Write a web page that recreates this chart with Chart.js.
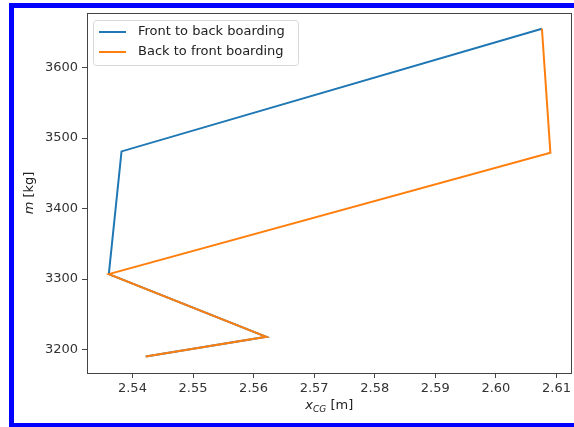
<!DOCTYPE html>
<html>
<head>
<meta charset="utf-8">
<script src="https://cdn.jsdelivr.net/npm/chart.js@4"></script>
<style>
  html, body { margin: 0; padding: 0; background: #fff; }
  #frame {
    position: absolute; left: 9px; top: 3px; width: 565px; height: 424px;
    box-sizing: border-box;
    border-left: 5px solid #0000ff; border-top: 5px solid #0000ff; border-bottom: 4px solid #0000ff;
  }
  #wrap { position: absolute; left: 0; top: 0; width: 574px; height: 427px; }
</style>
</head>
<body>
<div id="frame"></div>
<div id="wrap"><canvas id="cg"></canvas></div>
<script>
// =============== DATA ===============
const seriesNames = ['Front to back boarding', 'Back to front boarding'];
const seriesColors = ['#1f77b4', '#ff7f0e'];

// x_CG [m] dan massa [kg] untuk tiap urutan boarding
const frontX = [2.5422, 2.5621, 2.5361, 2.5382, 2.6076];
const frontM = [3190, 3218, 3307, 3481, 3655];
const backX  = [2.5422, 2.5621, 2.5361, 2.6090, 2.6076];
const backM  = [3190, 3218, 3307, 3479, 3655];

const xTicks = [2.54, 2.55, 2.56, 2.57, 2.58, 2.59, 2.60, 2.61];
const yTicks = [3200, 3300, 3400, 3500, 3600];

const toPoints = (xs, ys) => xs.map((x, i) => ({ x: x, y: ys[i] }));

// =============== PLUGIN: frame, legend, axis titles ===============
const decorPlugin = {
  id: 'decor',
  afterDraw(chart) {
    const ctx = chart.ctx;
    const a = chart.chartArea;
    ctx.save();

    // bingkai plot
    ctx.strokeStyle = '#444';
    ctx.lineWidth = 1;
    ctx.strokeRect(Math.round(a.left) + 0.5, Math.round(a.top) + 0.5,
                   Math.round(a.right - a.left) - 1, Math.round(a.bottom - a.top));

    // legenda
    const lx = a.left + 6, ly = a.top + 7, lw = 205, lh = 45;
    ctx.beginPath();
    ctx.roundRect(lx + 0.5, ly + 0.5, lw, lh, 3);
    ctx.fillStyle = 'rgba(255,255,255,0.8)';
    ctx.fill();
    ctx.strokeStyle = '#d8d8d8';
    ctx.stroke();
    ctx.font = '13px "DejaVu Sans"';
    ctx.textBaseline = 'middle';
    seriesNames.forEach((name, i) => {
      const y = ly + 12 + i * 20;
      ctx.strokeStyle = seriesColors[i];
      ctx.lineWidth = 2;
      ctx.beginPath();
      ctx.moveTo(lx + 6, y);
      ctx.lineTo(lx + 33, y);
      ctx.stroke();
      ctx.fillStyle = '#222';
      ctx.fillText(name, lx + 45, y);
    });

    // judul sumbu x: x_CG [m]
    const cx = (a.left + a.right) / 2, ty = 409;
    ctx.fillStyle = '#222';
    ctx.textBaseline = 'alphabetic';
    const fMain = 'italic 13px "DejaVu Sans"';
    const fSub = 'italic 9px "DejaVu Sans"';
    const fNorm = '13px "DejaVu Sans"';
    ctx.font = fMain; const w1 = ctx.measureText('x').width;
    ctx.font = fSub;  const w2 = ctx.measureText('CG').width;
    ctx.font = fNorm; const w3 = ctx.measureText(' [m]').width;
    let sx = cx - (w1 + w2 + w3) / 2;
    ctx.textAlign = 'left';
    ctx.font = fMain; ctx.fillText('x', sx, ty); sx += w1;
    ctx.font = fSub;  ctx.fillText('CG', sx, ty + 3); sx += w2;
    ctx.font = fNorm; ctx.fillText(' [m]', sx, ty);

    // judul sumbu y: m [kg]
    ctx.translate(33, (a.top + a.bottom) / 2);
    ctx.rotate(-Math.PI / 2);
    ctx.font = fMain; const m1 = ctx.measureText('m').width;
    ctx.font = fNorm; const m2 = ctx.measureText(' [kg]').width;
    let sy = -(m1 + m2) / 2;
    ctx.font = fMain; ctx.fillText('m', sy, 0); sy += m1;
    ctx.font = fNorm; ctx.fillText(' [kg]', sy, 0);
    ctx.restore();
  }
};

// =============== CHART ===============
const tickFont = { family: '"DejaVu Sans"', size: 13 };

new Chart(document.getElementById('cg'), {
  type: 'scatter',
  data: {
    datasets: [
      {
        label: seriesNames[0],
        data: toPoints(frontX, frontM),
        showLine: true,
        borderColor: seriesColors[0],
        borderWidth: 2,
        pointRadius: 0,
        tension: 0,
        order: 1
      },
      {
        label: seriesNames[1],
        data: toPoints(backX, backM),
        showLine: true,
        borderColor: seriesColors[1],
        borderWidth: 2,
        pointRadius: 0,
        tension: 0,
        order: 0
      }
    ]
  },
  plugins: [decorPlugin],
  options: {
    responsive: true,
    maintainAspectRatio: false,
    animation: false,
    layout: { padding: { top: 13, right: 2, left: 0, bottom: 0 } },
    plugins: {
      legend: { display: false },
      tooltip: { enabled: false }
    },
    scales: {
      x: {
        type: 'linear',
        min: 2.5325,
        max: 2.6125,
        afterBuildTicks: s => { s.ticks = xTicks.map(v => ({ value: v })); },
        afterFit: s => { s.height = 54; },
        grid: { drawOnChartArea: false, tickLength: 5, color: '#444' },
        border: { display: false },
        ticks: {
          font: tickFont, color: '#333', padding: 3, maxRotation: 0,
          callback: v => v.toFixed(2)
        }
      },
      y: {
        type: 'linear',
        min: 3166.7,
        max: 3677.3,
        afterBuildTicks: s => { s.ticks = yTicks.map(v => ({ value: v })); },
        afterFit: s => { s.width = 87; },
        grid: { drawOnChartArea: false, tickLength: 5, color: '#444' },
        border: { display: false },
        ticks: { font: tickFont, color: '#333', padding: 4, callback: v => String(v) }
      }
    }
  }
});
</script>
</body>
</html>
